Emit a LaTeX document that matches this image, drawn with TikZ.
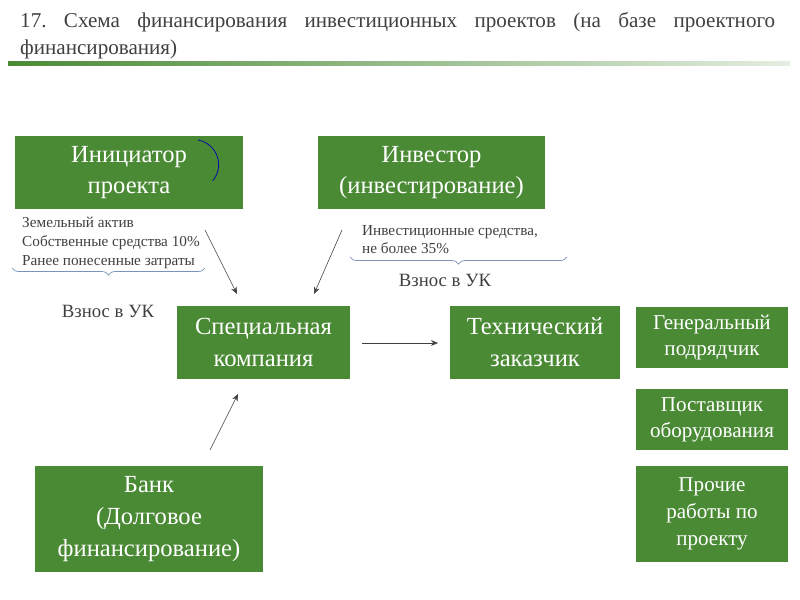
\documentclass[tikz,border=0pt]{standalone}
\usepackage{fontspec}
\setmainfont{Liberation Serif}
\usetikzlibrary{decorations.pathreplacing,arrows.meta}
\definecolor{gbox}{HTML}{4A8A35}
\definecolor{brc}{HTML}{7A93B8}
\definecolor{txt}{HTML}{404040}
\newlength\px \setlength\px{0.03cm}
\begin{document}
\begin{tikzpicture}[x=0.03cm,y=-0.03cm,
 box/.style={fill=gbox,text=white,align=center,inner sep=2pt,font=\fontsize{21}{27}\selectfont},
 arr/.style={draw=txt,-{Stealth[length=6pt,width=5pt]},line width=0.5pt},
 brace/.style={draw=brc,line width=0.6pt,decorate,decoration={brace,mirror,amplitude=6pt}}]
\useasboundingbox (0,0) rectangle (800,600);
\node[text=txt,text width=755\px,align=justify,anchor=north west,font=\fontsize{18}{23}\selectfont,inner sep=0] (title) at (20,12) {17.\ Схема финансирования инвестиционных проектов (на базе проектного финансирования)};
\shade[left color=gbox,right color=gbox!15] (8,62) rectangle (790,66);
\node[box,minimum width=228\px,minimum height=73\px] (init) at (129,172.5) {Инициатор\\проекта};
\node[box,minimum width=227\px,minimum height=73\px] (inv) at (431.5,172.5) {Инвестор\\(инвестирование)};
\node[box,minimum width=173\px,minimum height=73\px] (sc) at (263.5,342.5) {Специальная\\компания};
\node[box,minimum width=170\px,minimum height=73\px] (tz) at (535,342.5) {Технический\\заказчик};
\node[box,minimum width=152\px,minimum height=61\px,font=\fontsize{18}{22}\selectfont] (gp) at (712,337.5) {Генеральный\\подрядчик};
\node[box,minimum width=152\px,minimum height=61\px,font=\fontsize{18}{22}\selectfont] (po) at (712,419.5) {Поставщик\\оборудования};
\node[box,minimum width=152\px,minimum height=96\px,font=\fontsize{18}{23}\selectfont] (pr) at (712,514) {Прочие\\работы по\\проекту};
\node[box,minimum width=228\px,minimum height=106\px] (bank) at (149,519) {Банк\\(Долговое\\финансирование)};
\draw[blue!70!black,line width=0.6pt] (198,140) arc[start angle=-80,end angle=40,radius=25];
\node[anchor=north west,align=left,text=txt,inner sep=0,font=\fontsize{13}{16}\selectfont] (t1) at (22,217) {Земельный актив\\Собственные средства 10\%\\Ранее понесенные затраты};
\draw[brace] (12,268) -- (205,268);
\node[text=txt,font=\fontsize{16}{18}\selectfont] (v1) at (108,311) {Взнос в УК};
\node[anchor=north west,align=left,text=txt,inner sep=0,font=\fontsize{13}{16}\selectfont] (t2) at (362,225) {Инвестиционные средства,\\не более 35\%};
\draw[brace] (350,257) -- (567,257);
\node[text=txt,font=\fontsize{16}{18}\selectfont] (v2) at (445,280) {Взнос в УК};
\coordinate (a1) at (205,230); \coordinate (a2) at (342,230);
\coordinate (a3) at (362,343); \coordinate (a4) at (210,450);
\draw[arr] (a1) -- (237,294);
\draw[arr] (a2) -- (314,294);
\draw[arr] (a3) -- (438,343);
\draw[arr] (a4) -- (238,394);
\end{tikzpicture}
\end{document}
